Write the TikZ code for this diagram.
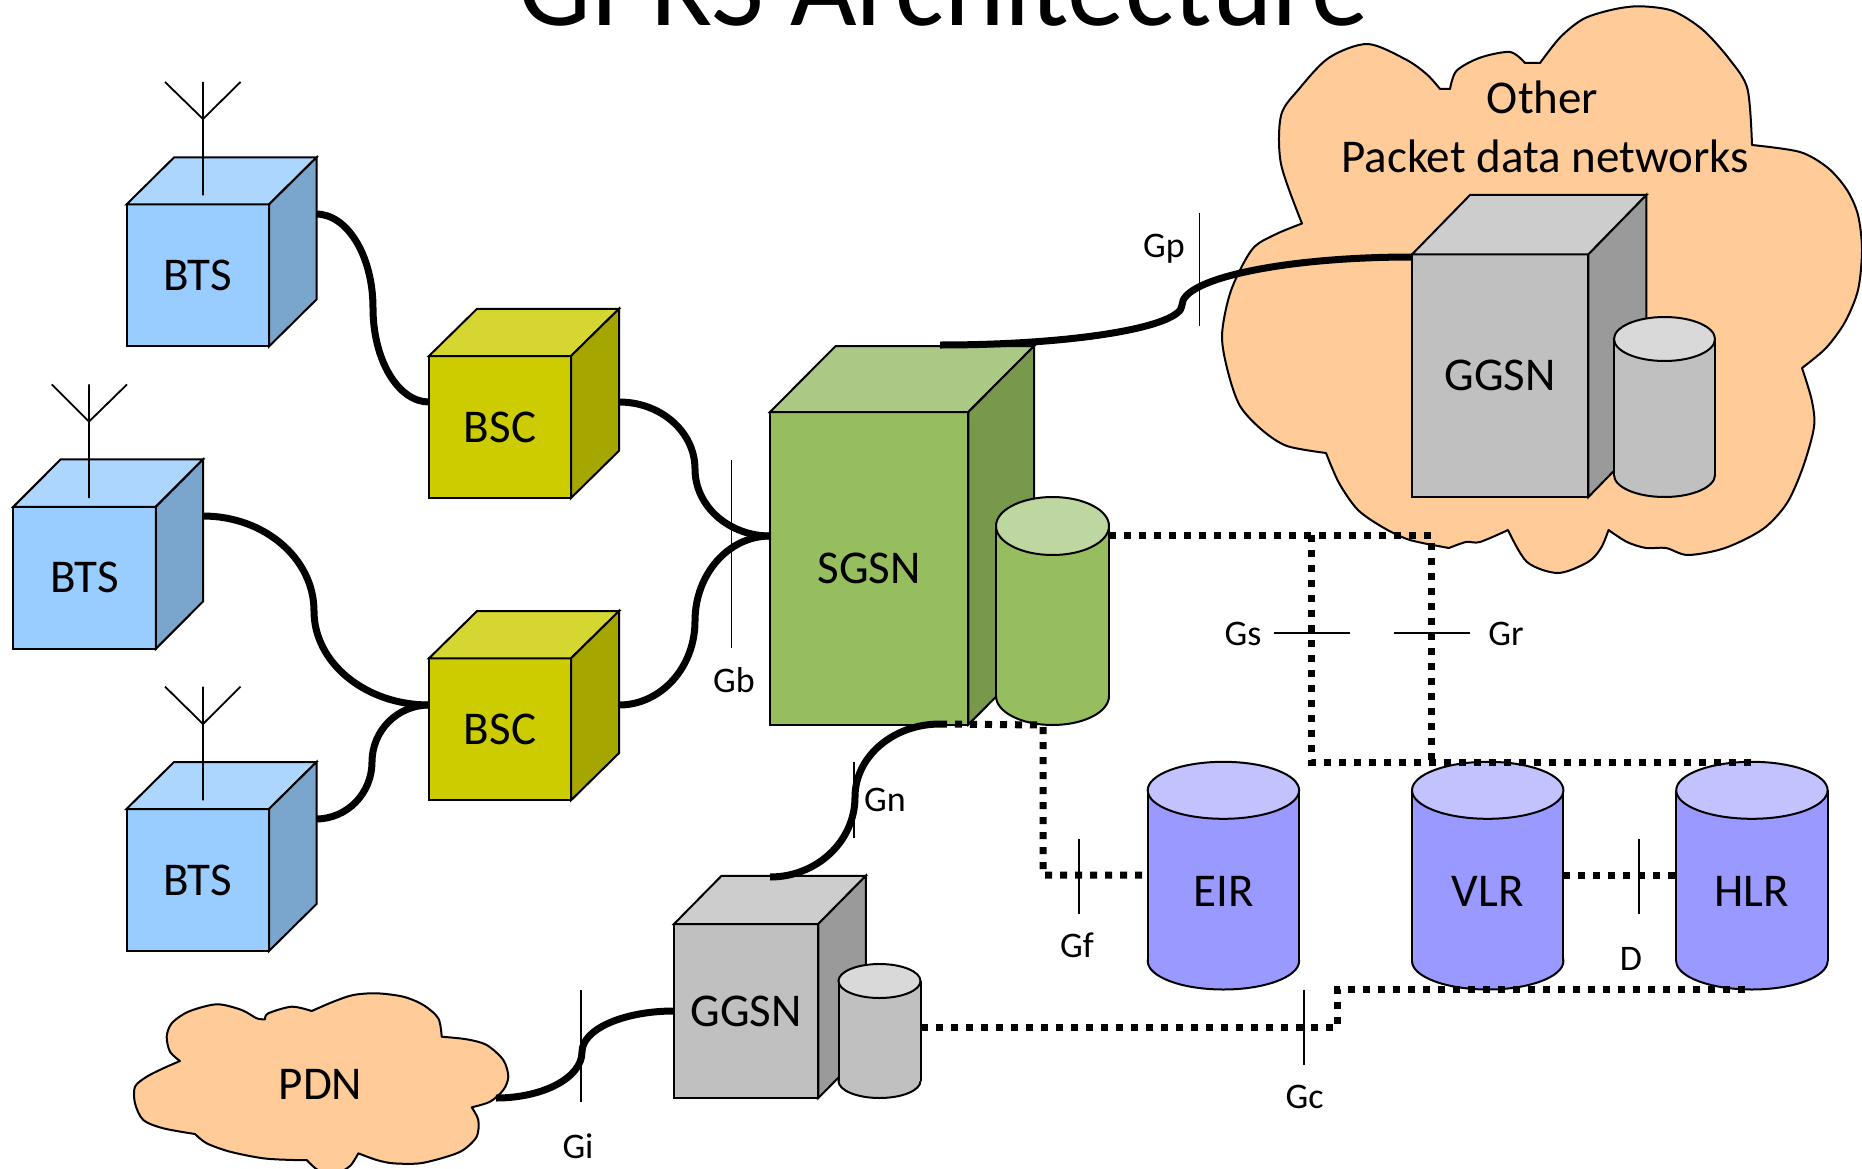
\documentclass[tikz,border=0pt]{standalone}
\usepackage{fontspec}
\setmainfont{Carlito}
\usetikzlibrary{calc}
\definecolor{btsF}{RGB}{153,204,255}
\definecolor{btsT}{RGB}{173,214,255}
\definecolor{btsR}{RGB}{122,166,206}
\definecolor{bscF}{RGB}{204,204,0}
\definecolor{bscT}{RGB}{214,214,51}
\definecolor{bscR}{RGB}{166,166,0}
\definecolor{sgF}{RGB}{150,190,95}
\definecolor{sgT}{RGB}{171,201,132}
\definecolor{sgR}{RGB}{120,153,75}
\definecolor{sgC}{RGB}{190,214,160}
\definecolor{ggF}{RGB}{192,192,192}
\definecolor{ggT}{RGB}{205,205,205}
\definecolor{ggR}{RGB}{154,154,154}
\definecolor{ggC}{RGB}{217,217,217}
\definecolor{dbF}{RGB}{153,153,255}
\definecolor{dbT}{RGB}{194,194,255}
\definecolor{cloudc}{RGB}{255,204,153}
\newcommand{\lblbig}{\fontsize{47}{56}\selectfont}
\newcommand{\lblsmall}{\fontsize{36}{43}\selectfont}
\newcommand{\lbltitle}{\fontsize{115}{130}\selectfont}
\newcommand{\boxfaces}[5]{%
  \draw[ol, fill=#4] (#1.north west) -- ([shift={(#2,-#3)}]#1.north west) -- ([shift={(#2,-#3)}]#1.north east) -- (#1.north east) -- cycle;
  \draw[ol, fill=#5] (#1.north east) -- ([shift={(#2,-#3)}]#1.north east) -- ([shift={(#2,-#3)}]#1.south east) -- (#1.south east) -- cycle;
}
\newcommand{\cylinderdraw}[7]{%
  \draw[ol, fill=#6] (#1,#3) ellipse [x radius=#4pt, y radius=#5pt];
  \fill[#6] (#1-#4,#2) rectangle (#1+#4,#3);
  \draw[ol] (#1-#4,#2) -- (#1-#4,#3) (#1+#4,#2) -- (#1+#4,#3);
  \draw[ol, fill=#7] (#1,#2) ellipse [x radius=#4pt, y radius=#5pt];
}
\newcommand{\sconn}[3]{%
  \draw[link] let \p1=(#1), \p2=(#2), \p3=(#3) in
    (\p1) .. controls ({\x1+0.552*(\x2-\x1)},\y1) and (\x2,{\y2+0.552*(\y1-\y2)}) .. (\p2)
          .. controls (\x2,{\y2+0.552*(\y3-\y2)}) and ({\x3+0.552*(\x2-\x3)},\y3) .. (\p3);
}
\begin{document}
\begin{tikzpicture}[x=1pt,y=-1pt,
  ol/.style={draw=black, line width=2pt},
  front/.style={ol, rectangle, inner sep=0pt, outer sep=0pt, font=\lblbig},
  btsbox/.style={front, fill=btsF, minimum width=142.5pt, minimum height=142pt},
  bscbox/.style={front, fill=bscF, minimum width=142pt, minimum height=142pt},
  link/.style={line width=7pt},
  dotl/.style={line width=7pt, dash pattern=on 7pt off 8pt},
  tick/.style={line width=1.6pt},
  ant/.style={line width=1.8pt},
  lbl/.style={font=\lblbig, inner sep=0pt},
  slbl/.style={font=\lblsmall, inner sep=0pt, anchor=base},
  cloudst/.style={draw=black, line width=2pt, fill=cloudc, line join=round}]
\useasboundingbox (0,0) rectangle (1862,1169);

% ---------- clouds ----------
\draw[cloudst] plot[smooth] coordinates {(1302,223.5) (1281,164) (1281,115.5) (1299,89) (1329,57.7) (1367.5,44) (1406,59.6) (1427,74.5) (1440,89)}
 -- (1450,89)
 -- plot[smooth] coordinates {(1450,89) (1456.5,70.8) (1480,57.7) (1510,52) (1525,63)}
 -- (1540,63)
 -- plot[smooth] coordinates {(1540,63) (1560.5,37) (1584,18.6) (1614,9.3) (1640.6,6.3) (1673,11) (1703,30) (1730,60) (1747.5,89) (1752,145)}
 -- plot[smooth] coordinates {(1752,145) (1800,152) (1828,168) (1847,190) (1858,215) (1862,250) (1858,290) (1845,322) (1826,348) (1802,368)}
 -- plot[smooth] coordinates {(1802,368) (1811.7,400) (1814,427) (1803,467) (1787,503) (1763,529) (1725,548) (1688,555) (1666,548) (1646,548) (1627,542) (1608.5,530)}
 -- plot[smooth] coordinates {(1608.5,530) (1601,548) (1588,562) (1558,573) (1527,562) (1508,530)}
 -- plot[smooth] coordinates {(1508,530) (1480,542) (1466,542) (1449,548)}
 -- plot[smooth] coordinates {(1449,548) (1410,540) (1384,528) (1358,510) (1339,483) (1326,453)}
 -- plot[smooth] coordinates {(1326,453) (1287,446) (1262,430) (1240,406) (1228,372) (1222,335) (1231,290.5) (1252,249.5) (1275,234.6) (1302,223.5)}
 -- cycle;

\draw[cloudst] plot[smooth] coordinates {(180,1061) (170,1051.7) (166.7,1036.7) (171.7,1023.3) (188.3,1011.7) (216.7,1004.3) (241.7,1010) (256.7,1018.3) (265,1019.3)}
 -- plot[smooth] coordinates {(265,1019.3) (268.3,1013.3) (291.7,1006.7) (311.7,1011)}
 -- plot[smooth] coordinates {(311.7,1011) (333.3,1001.7) (353.3,995) (376.7,993.3) (403.3,996.7) (423.3,1005) (438.3,1018.3) (441.7,1036.7)}
 -- plot[smooth] coordinates {(441.7,1036.7) (466.7,1039.3) (486.7,1045) (503.3,1060) (508.3,1076.7) (503.3,1090) (490,1101.7) (471.7,1107.3)}
 -- plot[smooth] coordinates {(471.7,1107.3) (478.3,1120) (476.7,1136.7) (463.3,1150) (446.7,1156.7) (420,1163.3) (393.3,1163.3) (376.7,1160) (358.3,1153.3)}
 -- plot[smooth] coordinates {(358.3,1153.3) (350,1166) (335,1174) (318,1170) (306.7,1160)}
 -- plot[smooth] coordinates {(306.7,1160) (293.3,1160) (263.3,1158.3) (230,1151.7) (206.7,1143.3) (195,1134)}
 -- plot[smooth] coordinates {(195,1134) (163.3,1128.3) (143.3,1120) (135,1103.3) (135,1086.7) (146.7,1076.7) (163.3,1068.3) (180,1061)}
 -- cycle;

% ---------- boxes ----------
\node[btsbox] (bts1) at (197.75,275.45) {BTS};
\boxfaces{bts1}{47.5}{47}{btsT}{btsR}
\node[btsbox] (bts2) at (84.65,577.75) {BTS};
\boxfaces{bts2}{47.3}{47.4}{btsT}{btsR}
\node[btsbox] (bts3) at (197.75,880) {BTS};
\boxfaces{bts3}{47.5}{47}{btsT}{btsR}
\node[bscbox] (bsc1) at (500,427) {BSC};
\boxfaces{bsc1}{48}{47.2}{bscT}{bscR}
\node[bscbox] (bsc2) at (500,729.3) {BSC};
\boxfaces{bsc2}{48}{47.2}{bscT}{bscR}
\node[front, fill=sgF, minimum width=198.4pt, minimum height=312.5pt] (sgsn) at (869.2,568.25) {SGSN};
\boxfaces{sgsn}{65.7}{66}{sgT}{sgR}
\node[front, fill=ggF, minimum width=176.4pt, minimum height=242.6pt] (ggsn) at (1500.2,375.7) {GGSN};
\boxfaces{ggsn}{58}{59.4}{ggT}{ggR}
\node[front, fill=ggF, minimum width=144.3pt, minimum height=174pt] (ggsn2) at (746.15,1011) {GGSN};
\boxfaces{ggsn2}{47.5}{48.2}{ggT}{ggR}

% antennas
\draw[ant] (203,82) -- (203,195.5) (165,82) -- (203,119) -- (240.5,82);
\draw[ant] (89,384.4) -- (89,498) (51.7,384.4) -- (89,421.6) -- (127,384.4);
\draw[ant] (203,686.6) -- (203,800.4) (165,686.6) -- (203,724) -- (240.5,686.6);

% ---------- cylinders ----------
\cylinderdraw{1052.5}{526}{696}{56.5}{29}{sgF}{sgC}
\cylinderdraw{1664.5}{339}{475}{50.5}{22}{ggF}{ggC}
\cylinderdraw{879.5}{981}{1081}{41}{17}{ggF}{ggC}
\cylinderdraw{1223.4}{790.3}{961}{75.7}{28.5}{dbF}{dbT}
\cylinderdraw{1487.7}{790.3}{961}{75.7}{28.5}{dbF}{dbT}
\cylinderdraw{1751.9}{790.3}{961}{75.7}{28.5}{dbF}{dbT}
\node[lbl] (eir) at (1223.4,891) {EIR};
\node[lbl] (vlr) at (1487.7,891) {VLR};
\node[lbl] (hlr) at (1751.9,891) {HLR};
\node[lbl] (pdn) at (320.5,1084) {PDN};

% ---------- connection points ----------
\coordinate (bts1-o) at (316,214);
\coordinate (bts2-o) at (203,516);
\coordinate (bts3-o) at (316,819);
\coordinate (bsc1-i) at (429,402);
\coordinate (bsc2-i) at (429,705);
\coordinate (bsc1-o) at (619,402);
\coordinate (bsc2-o) at (619,705);
\coordinate (sgsn-w) at (770,536);
\coordinate (sgsn-t) at (940,345);
\coordinate (sgsn-b) at (940,724);
\coordinate (ggsn-w) at (1412,257);
\coordinate (ggsn2-t) at (770,877);
\coordinate (ggsn2-w) at (674,1011);
\coordinate (pdn-e) at (496,1098);
\coordinate (m1) at (373,308);
\coordinate (m2) at (314,611);
\coordinate (m3) at (372,762);
\coordinate (m4) at (695,469);
\coordinate (m5) at (695,621);
\coordinate (m6) at (1182,305);
\coordinate (m7) at (855,797);
\coordinate (m8) at (582,1052);
\coordinate (sgc-e) at (1109,535);
\coordinate (sgc-b) at (1043,725);
\coordinate (eir-w) at (1147.7,875);
\coordinate (vlr-e) at (1563.4,875);
\coordinate (hlr-w) at (1676.2,875);
\coordinate (hlr-t) at (1752,762);
\coordinate (hlr-b) at (1752,989.5);
\coordinate (gg2c-e) at (920.5,1027);

% ---------- solid links ----------
\sconn{bts1-o}{m1}{bsc1-i}
\sconn{bts2-o}{m2}{bsc2-i}
\sconn{bts3-o}{m3}{bsc2-i}
\sconn{bsc1-o}{m4}{sgsn-w}
\sconn{bsc2-o}{m5}{sgsn-w}
\sconn{sgsn-t}{m6}{ggsn-w}
\sconn{sgsn-b}{m7}{ggsn2-t}
\sconn{pdn-e}{m8}{ggsn2-w}

% ---------- dotted links ----------
\draw[dotl] (sgc-e) -- (1431,535) -- (1431,762);
\draw[dotl] (1311,535) -- (1311,762) -- (hlr-t);
\draw[dotl] (sgsn-b) -- (sgc-b) -- (1043,875) -- (eir-w);
\draw[dotl] (vlr-e) -- (hlr-w);
\draw[dotl] (gg2c-e) -- (1337,1027) -- (1337,989.5) -- (hlr-b);

% ---------- interface ticks ----------
\draw[tick] (731.6,460) -- (731.6,648);
\draw[tick] (1199.4,213) -- (1199.4,326);
\draw[tick] (854,762) -- (854,838);
\draw[tick] (581,990) -- (581,1102);
\draw[tick] (1274,633) -- (1349.6,633);
\draw[tick] (1394,633) -- (1469.6,633);
\draw[tick] (1079,838.5) -- (1079,913.5);
\draw[tick] (1639,838.5) -- (1639,913.5);
\draw[tick] (1304,989.6) -- (1304,1064.6);

% ---------- labels ----------
\node[slbl] (lgb) at (734,692) {Gb};
\node[slbl] (lgp) at (1164,257) {Gp};
\node[slbl] (lgn) at (885,811.6) {Gn};
\node[slbl] (lgi) at (578,1158.6) {Gi};
\node[slbl] (lgs) at (1243,645.6) {Gs};
\node[slbl] (lgr) at (1506,645.6) {Gr};
\node[slbl] (lgf) at (1077,957) {Gf};
\node[slbl] (ld) at (1631,970) {D};
\node[slbl] (lgc) at (1304.5,1108) {Gc};
\node[lbl, anchor=base] (opdn1) at (1542.6,113.6) {Other};
\node[lbl, anchor=base] (opdn2) at (1545,173) {Packet data networks};
\node[font=\lbltitle, anchor=base, inner sep=0pt] (title) at (943.5,26) {GPRS Architecture};
\end{tikzpicture}
\end{document}
